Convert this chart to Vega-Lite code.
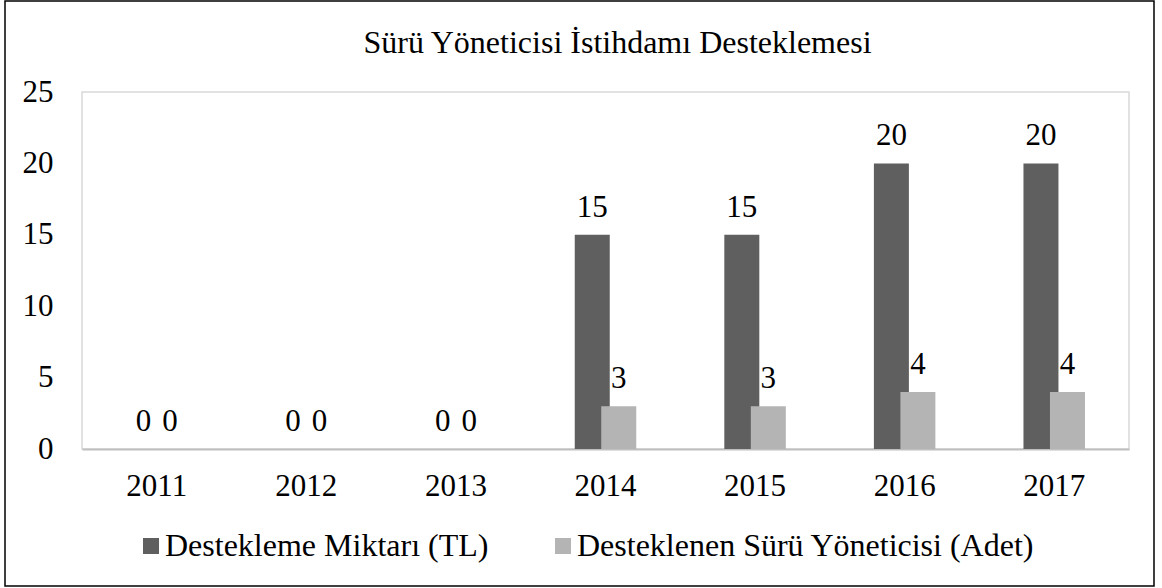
{
  "$schema": "https://vega.github.io/schema/vega-lite/v6.json",
  "width": 1047,
  "height": 357,
  "autosize": {"type": "none"},
  "padding": {"left": 82, "top": 92, "right": 33, "bottom": 139},
  "background": "white",
  "title": {
    "text": "Sürü Yöneticisi İstihdamı Desteklemesi",
    "font": "Liberation Serif",
    "fontSize": 32,
    "fontWeight": "normal",
    "color": "black",
    "anchor": "middle",
    "baseline": "alphabetic",
    "offset": -85,
    "dx": 12
  },
  "config": {
    "view": {"stroke": "#d9d9d9", "strokeWidth": 1.5},
    "axis": {"grid": false, "ticks": false, "labelFont": "Liberation Serif", "labelFontSize": 31, "labelColor": "black", "title": null}
  },
  "data": {
    "values": [
      {"year": "2011", "series": "Destekleme Miktarı (TL)", "value": 0},
      {"year": "2012", "series": "Destekleme Miktarı (TL)", "value": 0},
      {"year": "2013", "series": "Destekleme Miktarı (TL)", "value": 0},
      {"year": "2014", "series": "Destekleme Miktarı (TL)", "value": 15},
      {"year": "2015", "series": "Destekleme Miktarı (TL)", "value": 15},
      {"year": "2016", "series": "Destekleme Miktarı (TL)", "value": 20},
      {"year": "2017", "series": "Destekleme Miktarı (TL)", "value": 20},
      {"year": "2011", "series": "Desteklenen Sürü Yöneticisi (Adet)", "value": 0},
      {"year": "2012", "series": "Desteklenen Sürü Yöneticisi (Adet)", "value": 0},
      {"year": "2013", "series": "Desteklenen Sürü Yöneticisi (Adet)", "value": 0},
      {"year": "2014", "series": "Desteklenen Sürü Yöneticisi (Adet)", "value": 3},
      {"year": "2015", "series": "Desteklenen Sürü Yöneticisi (Adet)", "value": 3},
      {"year": "2016", "series": "Desteklenen Sürü Yöneticisi (Adet)", "value": 4},
      {"year": "2017", "series": "Desteklenen Sürü Yöneticisi (Adet)", "value": 4}
    ]
  },
  "encoding": {
    "x": {
      "field": "year",
      "type": "ordinal",
      "scale": {"paddingInner": 0, "paddingOuter": 0},
      "axis": {"labelAngle": 0, "domain": true, "domainColor": "#bfbfbf", "domainWidth": 2, "labelPadding": 22}
    },
    "y": {
      "field": "value",
      "type": "quantitative",
      "scale": {"domain": [0, 25], "nice": false},
      "axis": {"values": [0, 5, 10, 15, 20, 25], "domain": false, "labelPadding": 29}
    }
  },
  "layer": [
    {
      "transform": [{"filter": "datum.series === 'Destekleme Miktarı (TL)'"}],
      "mark": {"type": "bar", "width": 35, "xOffset": -13.25},
      "encoding": {
        "color": {
          "field": "series",
          "type": "nominal",
          "scale": {"domain": ["Destekleme Miktarı (TL)", "Desteklenen Sürü Yöneticisi (Adet)"], "range": ["#5f5f5f", "#b4b4b4"]},
          "legend": {
            "title": null,
            "orient": "none",
            "legendX": 53,
            "legendY": 438,
            "direction": "horizontal",
            "symbolType": "square",
            "symbolSize": 256,
            "symbolStrokeWidth": 0,
            "symbolOpacity": 1,
            "labelFont": "Liberation Serif",
            "labelFontSize": 32,
            "labelColor": "black",
            "labelOffset": -2,
            "labelLimit": 1000,
            "columnPadding": 58,
            "padding": 0
          }
        }
      }
    },
    {
      "transform": [{"filter": "datum.series === 'Desteklenen Sürü Yöneticisi (Adet)'"}],
      "mark": {"type": "bar", "width": 35, "xOffset": 13.25},
      "encoding": {
        "color": {"field": "series", "type": "nominal"}
      }
    },
    {
      "transform": [{"filter": "datum.series === 'Destekleme Miktarı (TL)'"}],
      "mark": {"type": "text", "font": "Liberation Serif", "fontSize": 31, "color": "black", "baseline": "alphabetic", "dy": -18, "xOffset": -13.25},
      "encoding": {"text": {"field": "value", "type": "quantitative"}}
    },
    {
      "transform": [{"filter": "datum.series === 'Desteklenen Sürü Yöneticisi (Adet)'"}],
      "mark": {"type": "text", "font": "Liberation Serif", "fontSize": 31, "color": "black", "baseline": "alphabetic", "dy": -18, "xOffset": 13.25},
      "encoding": {"text": {"field": "value", "type": "quantitative"}}
    },
    {
      "data": {"values": [{"frame": 1}]},
      "mark": {"type": "rect", "fill": null, "stroke": "black", "strokeWidth": 1.5},
      "encoding": {
        "x": {"value": -77},
        "x2": {"value": 1072},
        "y": {"value": -91},
        "y2": {"value": 494}
      }
    }
  ]
}
